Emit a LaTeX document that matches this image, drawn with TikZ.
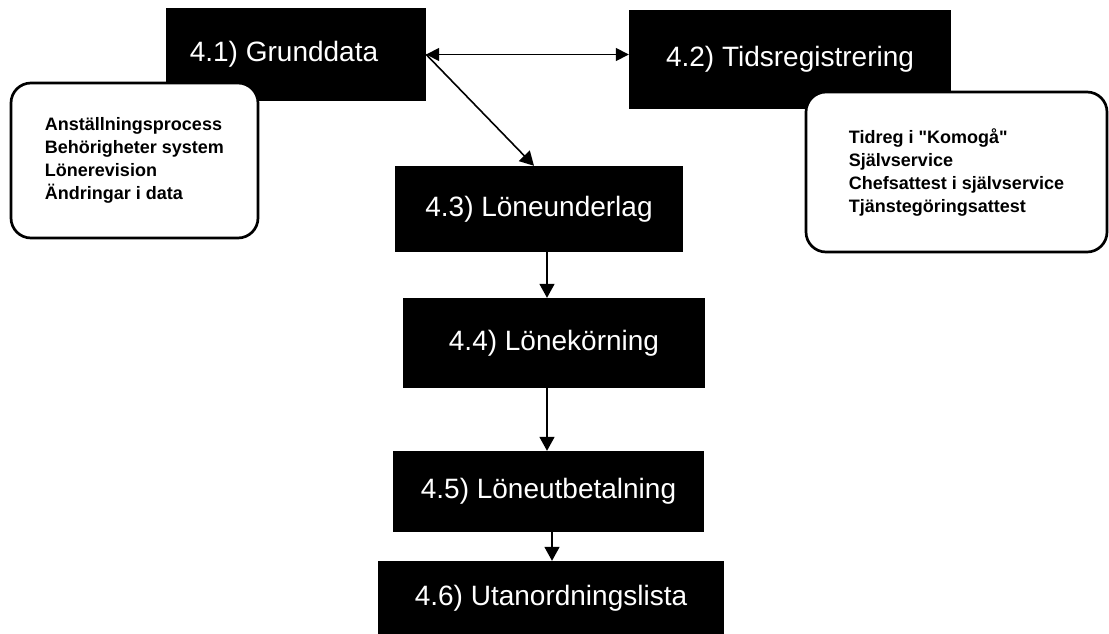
\documentclass[tikz,border=0pt]{standalone}
\usepackage{fontspec}
\setmainfont{Liberation Sans}[Ligatures=TeXOff]
\usetikzlibrary{arrows.meta}
\tikzset{
  procbox/.style={rectangle, fill=black, text=white, inner sep=0pt,
    font=\fontsize{28}{32}\selectfont},
  notebox/.style={rectangle, draw=black, fill=white, line width=2.7pt,
    rounded corners=20pt, inner sep=0pt, align=left,
    font=\bfseries\fontsize{18}{23}\selectfont},
  flow/.style={line width=1.6pt, -{Triangle[length=14pt,width=15pt]}},
  both/.style={line width=1.6pt, {Triangle[length=13pt,width=13pt]}-{Triangle[length=13pt,width=13pt]}}
}
\begin{document}
\begin{tikzpicture}[x=1pt,y=-1pt]
\useasboundingbox (0,0) rectangle (1109,633);
\node[procbox, minimum width=260pt, minimum height=93pt] (g) at (296,54.5) {4.1) Grunddata\hspace*{24pt}};
\node[procbox, minimum width=322pt, minimum height=99pt] (t) at (790,59.5) {4.2) Tidsregistrering};
\node[procbox, minimum width=288pt, minimum height=86pt] (l3) at (539,209) {4.3) Löneunderlag};
\node[procbox, minimum width=302pt, minimum height=90pt] (l4) at (554,343) {4.4) Lönekörning};
\node[procbox, minimum width=311pt, minimum height=81pt] (l5) at (548.5,491.5) {4.5) Löneutbetalning};
\node[procbox, minimum width=346pt, minimum height=74pt] (l6) at (551,598) {4.6) Utanordningslista};
\node[notebox, minimum width=247pt, minimum height=155pt] (a) at (134.5,160.5)
  {Anställningsprocess\\Behörigheter system\\Lönerevision\\Ändringar i data};
\node[notebox, minimum width=301pt, minimum height=160pt] (b) at (956.5,172)
  {Tidreg i "Komogå"\\Självservice\\Chefsattest i självservice\\Tjänstegöringsattest};
\draw[both] (g.east) -- (g.east -| t.west);
\draw[flow] (g.east) -- ([xshift=-5pt]l3.north);
\draw[flow] ([xshift=8pt]l3.south) -- ([xshift=8pt]l3.south |- l4.north);
\draw[flow] ([xshift=-7pt]l4.south) -- ([xshift=-7pt]l4.south |- l5.north);
\draw[flow] ([xshift=3.5pt]l5.south) -- ([xshift=3.5pt]l5.south |- l6.north);
\end{tikzpicture}
\end{document}
